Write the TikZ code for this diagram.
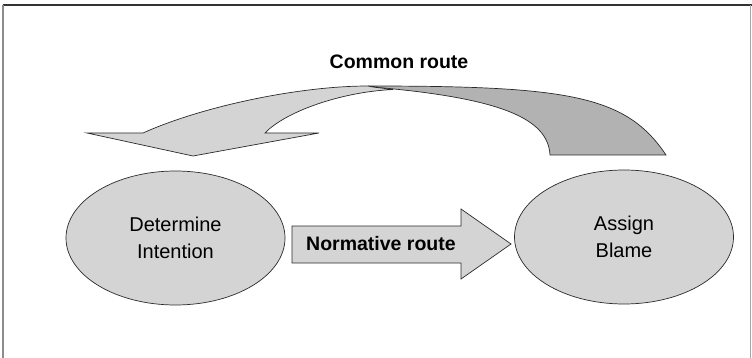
\documentclass[tikz,border=0pt]{standalone}
\usepackage{fontspec}
\setmainfont{Liberation Sans}
\usetikzlibrary{shapes.geometric}
\definecolor{lightfill}{HTML}{D4D4D4}
\definecolor{darkfill}{HTML}{B2B2B2}
\definecolor{edge}{HTML}{2A2A2A}
\begin{document}
\begin{tikzpicture}[x=1pt,y=-1pt,
  stage/.style={ellipse, draw=edge, fill=lightfill, line width=0.7pt,
    minimum width=219pt, minimum height=134pt, inner sep=0pt, align=center,
    font=\fontsize{20}{27}\selectfont},
  routetext/.style={font=\fontsize{19.5}{23}\selectfont\bfseries},
  lightpart/.style={draw=edge, fill=lightfill, line width=0.7pt, line join=miter},
  darkpart/.style={draw=edge, fill=darkfill, line width=0.7pt, line join=miter}]
\useasboundingbox (0,0) rectangle (752,358);

% frame
\draw[color=black!80, line width=1.2pt] (3,5) -- (752,5);
\draw[color=black!45, line width=1.5pt] (3,5) -- (3,358);
\draw[color=black!35, line width=1pt] (750.5,5) -- (750.5,358);

% the two stages
\node[stage] (intent) at (175.5,238) {Determine\\Intention};
\node[stage] (blame) at (624,237) {Assign\\Blame};

% normative route: straight block arrow
\filldraw[lightpart] (292,226) -- (461,226) -- (461,209) -- (511,244)
  -- (461,279) -- (461,263) -- (292,263) -- cycle;
\node[routetext] (normative) at (381,244) {Normative route};

% common route: curved block arrow, back face first
\filldraw[darkpart] (368,86)
  .. controls (568,86) and (626,95) .. (666,155)
  -- (550,155)
  .. controls (548,118) and (500,98) .. (373,87)
  -- cycle;
\filldraw[lightpart] (368,86)
  .. controls (300,86) and (203,106) .. (143,133)
  -- (87,133) -- (193,156) -- (319,133) -- (265,133)
  .. controls (285,112) and (340,92) .. (393,89.5)
  -- (373,87) -- cycle;
\node[routetext] (common) at (399,62) {Common route};
\end{tikzpicture}
\end{document}
